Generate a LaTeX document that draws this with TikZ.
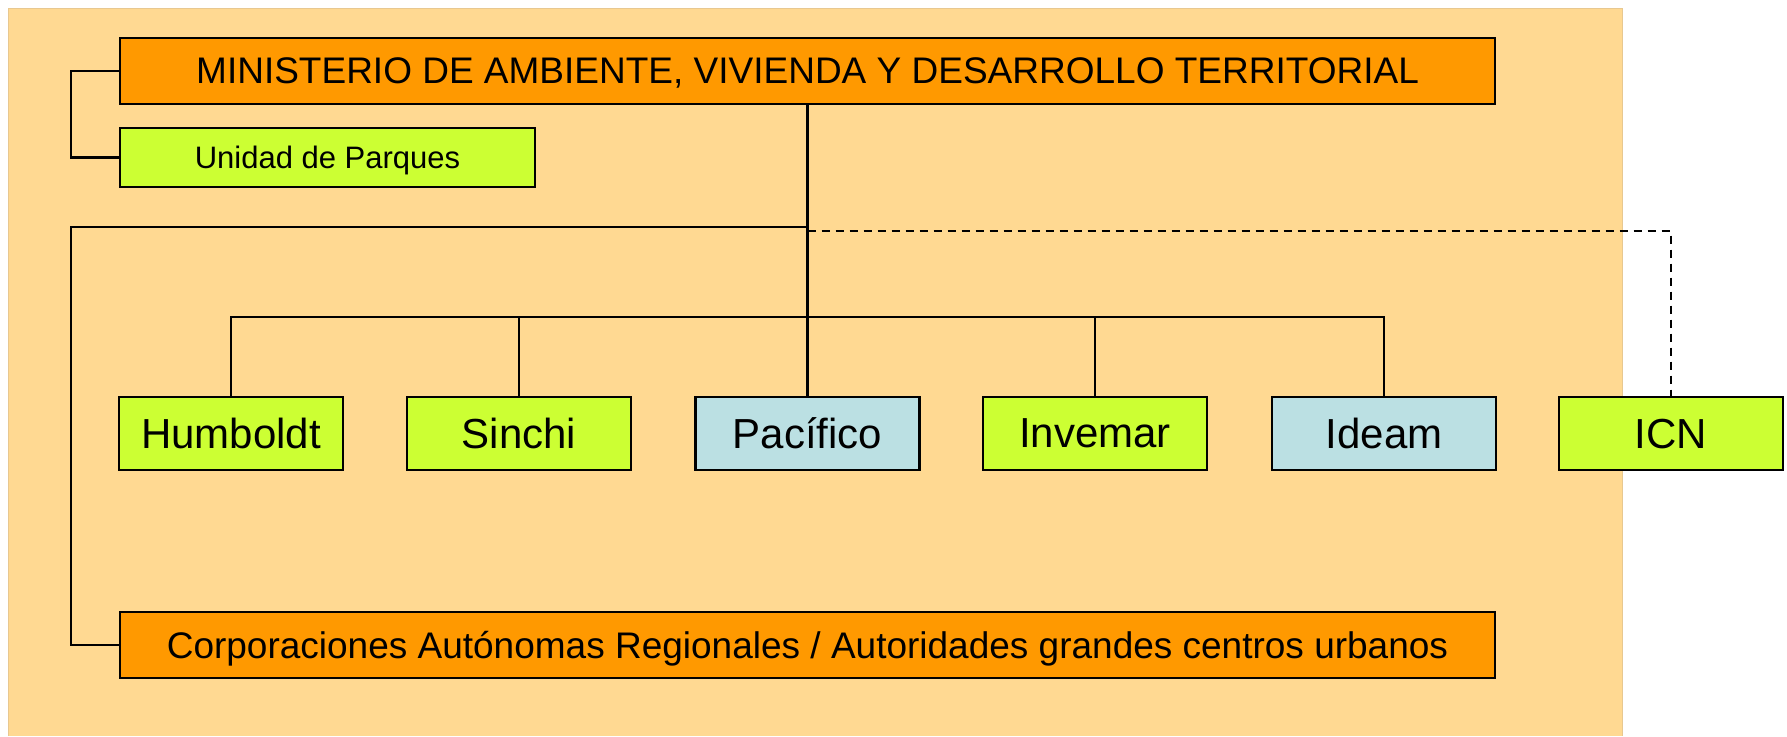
\documentclass[tikz,border=0pt]{standalone}
\usepackage{fontspec}
\setmainfont{Liberation Sans}
\definecolor{bgc}{HTML}{FFD992}
\definecolor{bgb}{HTML}{E8C890}
\definecolor{orng}{HTML}{FF9900}
\definecolor{lime}{HTML}{CCFF33}
\definecolor{lblue}{HTML}{BBE0E3}
\begin{document}
\begin{tikzpicture}[x=1pt,y=-1pt,
  box/.style={draw=black, line width=2.5pt, rectangle, inner sep=0pt, anchor=center, text depth=0pt},
  bigbox/.style={box, fill=orng, minimum width=1375pt, minimum height=66pt, font=\fontsize{37}{44}\selectfont},
  unitbox/.style={box, fill=lime, minimum width=415pt, minimum height=59pt, font=\fontsize{31}{37}\selectfont},
  inst/.style={box, minimum width=224pt, minimum height=73pt, font=\fontsize{42}{50}\selectfont},
  conn/.style={line width=2.3pt},
  dashconn/.style={line width=2.3pt, dash pattern=on 8pt off 6pt}
]
\useasboundingbox (0,0) rectangle (1787,736);
\fill[bgc] (8,8) rectangle (1622,736);
\draw[bgb, line width=1pt] (8,736) -- (8,8) -- (1622,8) -- (1622,736);

\node[bigbox] (mini) at (807.5,71) {MINISTERIO DE AMBIENTE, VIVIENDA Y DESARROLLO TERRITORIAL};
\node[unitbox] (unid) at (327.5,157.5) {Unidad de Parques};
\node[inst, fill=lime] (hum) at (231,433.5) {Humboldt};
\node[inst, fill=lime] (sin) at (519,433.5) {Sinchi};
\node[inst, fill=lblue] (pac) at (807.5,433.5) {Pacífico};
\node[inst, fill=lime] (inv) at (1095,433.5) {Invemar};
\node[inst, fill=lblue] (ide) at (1384,433.5) {Ideam};
\node[inst, fill=lime] (icn) at (1671,433.5) {ICN};
\node[bigbox] (corp) at (807.5,645) {Corporaciones Autónomas Regionales / Autoridades grandes centros urbanos};

\coordinate (ul) at (71,71);
\coordinate (j1) at (807.5,227);
\coordinate (lc) at (71,227);
\coordinate (j2) at (807.5,231);
\coordinate (bar) at (807.5,317);

\draw[conn] (mini.west) -- (ul) |- (unid.west);
\draw[conn] (j1) -- (lc) |- (corp.west);
\draw[dashconn] (j2) -| (icn.north);
\draw[conn] (hum.north) |- (bar) -| (ide.north);
\draw[conn] (sin.north) -- (sin.north |- bar);
\draw[conn] (inv.north) -- (inv.north |- bar);
\draw[line width=3pt] (mini.south) -- (pac.north);
\end{tikzpicture}
\end{document}
